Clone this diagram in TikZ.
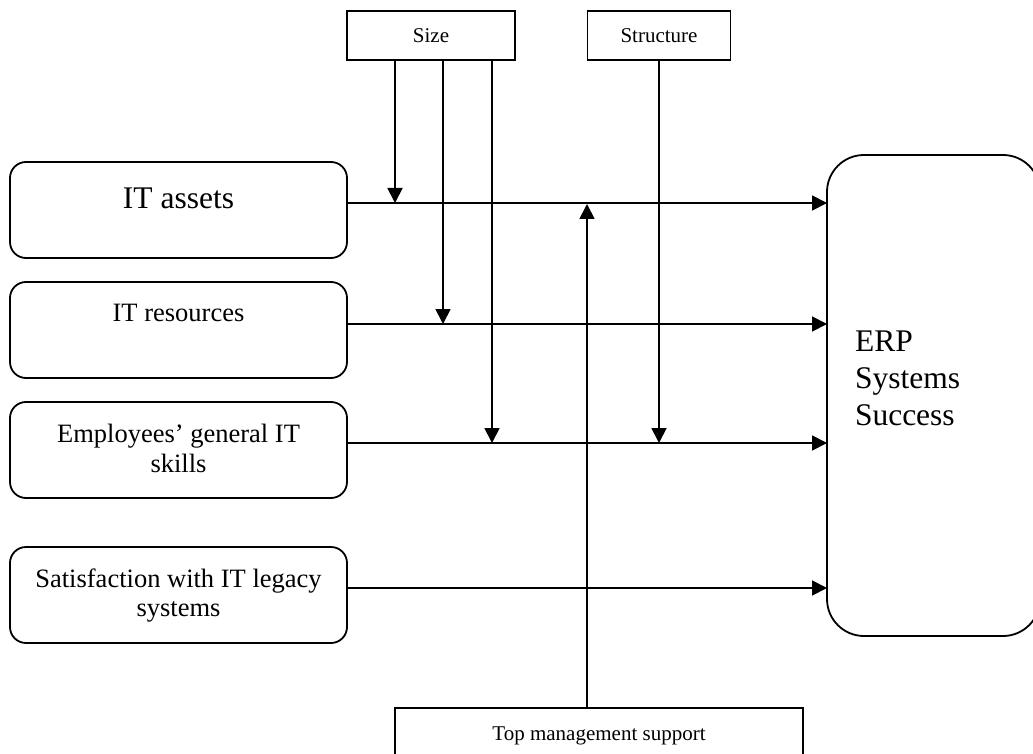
\documentclass[tikz,border=0pt]{standalone}
\usepackage{fontspec}
\setmainfont{Liberation Serif}
\usetikzlibrary{arrows.meta}
\begin{document}
\begin{tikzpicture}[x=1pt,y=-1pt,
  every node/.style={inner sep=0pt, outer sep=0pt},
  rbox/.style={draw, line width=1.8pt, rounded corners=16pt, minimum width=337pt, minimum height=96pt},
  sbox/.style={draw, line width=1.8pt},
  link/.style={line width=1.8pt, -{Triangle[length=15pt,width=15pt]}},
  big/.style={font=\fontsize{31.5}{37}\selectfont},
  mid/.style={font=\fontsize{26.5}{30}\selectfont},
  small/.style={font=\fontsize{21}{25}\selectfont},
]
\useasboundingbox (0,0) rectangle (1033,754);
\clip (0,0) rectangle (1033,754);

% rows of the four input arrows, columns of the vertical moderators
\coordinate (rowA) at (0,203);
\coordinate (rowB) at (0,324);
\coordinate (rowC) at (0,443);
\coordinate (rowD) at (0,588);
\coordinate (colA) at (395,0);
\coordinate (colB) at (443,0);
\coordinate (colC) at (492,0);
\coordinate (colS) at (659,0);
\coordinate (colT) at (587,0);

% input factors
\node[rbox] (assets)    at (178.5,210) {};
\node[rbox] (resources) at (178.5,330) {};
\node[rbox] (skills)    at (178.5,450) {};
\node[rbox] (legacy)    at (178.5,595) {};

\node[big, anchor=base] (assetsT)    at (178.5,208) {IT assets};
\node[mid, anchor=base] (resourcesT) at (178.5,321) {IT resources};
\node[mid, anchor=base] (skillsT1)   at (178.5,442) {Employees’ general IT};
\node[mid, anchor=base] (skillsT2)   at (178.5,472) {skills};
\node[mid, anchor=base] (legacyT1)   at (178.5,587) {Satisfaction with IT legacy};
\node[mid, anchor=base] (legacyT2)   at (178.5,616) {systems};

% outcome
\node[draw, line width=1.8pt, rounded corners=37pt, minimum width=213pt, minimum height=481pt] (erp) at (933.5,395.5) {};
\node[big, anchor=base west] (erpT1) at (855,351) {ERP};
\node[big, anchor=base west] (erpT2) at (855,388) {Systems};
\node[big, anchor=base west] (erpT3) at (855,425) {Success};

% moderators
\node[sbox, small, minimum width=168pt, minimum height=49pt] (size)      at (431,35.5) {Size};
\node[sbox, small, minimum width=143pt, minimum height=49pt] (structure) at (659,35.5) {Structure};
\node[sbox, minimum width=408pt, minimum height=70pt] (top) at (599,743) {};
\node[small, anchor=base] (topT) at (599,740) {Top management support};

% direct effects
\draw[link] (assets.east |- rowA)    -- (erp.west |- rowA);
\draw[link] (resources.east |- rowB) -- (erp.west |- rowB);
\draw[link] (skills.east |- rowC)    -- (erp.west |- rowC);
\draw[link] (legacy.east |- rowD)    -- (erp.west |- rowD);

% moderating effects
\draw[link] (size.south -| colA) -- (colA |- rowA);
\draw[link] (size.south -| colB) -- (colB |- rowB);
\draw[link] (size.south -| colC) -- (colC |- rowC);
\draw[link] (structure.south -| colS) -- (colS |- rowC);
\draw[link] (top.north -| colT) -- ([yshift=-1pt]colT |- rowA);
\end{tikzpicture}
\end{document}
